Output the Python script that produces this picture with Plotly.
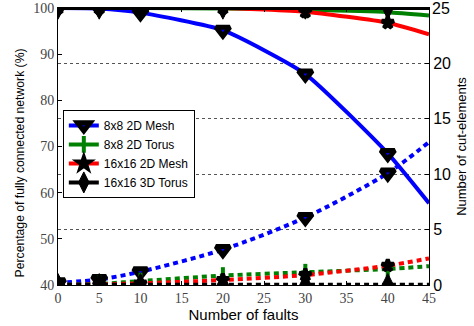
import plotly.graph_objects as go

faults = [0, 5, 10, 20, 30, 40, 45]
marker_faults = [0, 5, 10, 20, 30, 40]

names = ["8x8 2D Mesh", "8x8 2D Torus", "16x16 2D Mesh", "16x16 3D Torus"]
colors = ["#0000ff", "#008000", "#ff0000", "#000000"]
symbols = ["triangle-down", "line-ns", "star", "diamond-tall"]

# Percentage of fully connected network (%) - left axis
pct_mesh8 = [100.0, 99.9, 99.0, 95.2, 85.7, 68.5, 57.7]
pct_torus8 = [100.0, 100.0, 100.0, 99.9, 99.6, 99.1, 98.4]
pct_mesh16 = [100.0, 100.0, 100.0, 100.0, 99.2, 96.8, 94.3]
pct_torus16 = [100.0, 100.0, 100.0, 100.0, 100.0, 100.0, 100.0]

# Number of cut-elements - right axis
cut_mesh8 = [0.2, 0.5, 1.2, 3.2, 6.1, 10.1, 12.9]
cut_torus8 = [0.0, 0.1, 0.35, 0.85, 1.15, 1.45, 1.7]
cut_mesh16 = [0.0, 0.05, 0.15, 0.45, 0.9, 1.75, 2.4]
cut_torus16 = [0.02, 0.02, 0.02, 0.02, 0.02, 0.02, 0.02]

right_ticks = [0, 5, 10, 15, 20, 25]
left_ticks = [40, 50, 60, 70, 80, 90, 100]
x_ticks = [0, 5, 10, 15, 20, 25, 30, 35, 40, 45]

pct = [pct_mesh8, pct_torus8, pct_mesh16, pct_torus16]
cut = [cut_mesh8, cut_torus8, cut_mesh16, cut_torus16]

fig = go.Figure()


def marker_for(i, legend=False):
    if symbols[i] == "line-ns":
        return dict(symbol="line-ns", size=12, color=colors[i],
                    line=dict(color=colors[i], width=4))
    if symbols[i] == "diamond-tall":
        return dict(symbol="diamond-tall", size=15 if legend else 16, color="black",
                    line=dict(color="black", width=1))
    if symbols[i] == "star":
        return dict(symbol="star", size=9, color=colors[i],
                    line=dict(color="black", width=4))
    return dict(symbol=symbols[i], size=11 if legend else 12, color=colors[i],
                line=dict(color="black", width=5))


# dotted cut-element curves (right axis)
for i in range(4):
    fig.add_trace(go.Scatter(
        x=faults, y=cut[i], yaxis="y2", mode="lines",
        line=dict(color=colors[i], width=4, dash="5px,4px", shape="spline", smoothing=0.8),
        showlegend=False, hoverinfo="skip"))
    n = len(marker_faults)
    fig.add_trace(go.Scatter(
        x=marker_faults, y=cut[i][:n], yaxis="y2", mode="markers",
        marker=marker_for(i), showlegend=False, hoverinfo="skip"))

# solid percentage curves (left axis)
for i in range(4):
    fig.add_trace(go.Scatter(
        x=faults, y=pct[i], yaxis="y", mode="lines",
        line=dict(color=colors[i], width=4, shape="spline", smoothing=0.5),
        showlegend=False, hoverinfo="skip"))
    n = len(marker_faults)
    fig.add_trace(go.Scatter(
        x=marker_faults, y=pct[i][:n], yaxis="y", mode="markers",
        marker=marker_for(i), showlegend=False, hoverinfo="skip"))

# legend entries
for i in range(4):
    fig.add_trace(go.Scatter(
        x=[None], y=[None], mode="lines+markers", name=names[i],
        line=dict(color=colors[i], width=4, dash="solid"), marker=marker_for(i, legend=True)))

serif = "Liberation Serif"
sans = "Liberation Sans"

fig.update_layout(
    width=474, height=326,
    margin=dict(l=58, r=45, t=8, b=41, autoexpand=False),
    paper_bgcolor="white", plot_bgcolor="white",
    xaxis=dict(
        range=[0, 45], tickvals=x_ticks,
        ticks="inside", ticklen=4, tickcolor="black", automargin=False,
        showline=True, linecolor="black", linewidth=1, mirror="ticks",
        showgrid=False, zeroline=False, ticklabeloverflow="allow",
        tickfont=dict(family=serif, size=14, color="#444"),
        title=dict(text="Number of faults", font=dict(family=sans, size=15, color="black"), standoff=4),
    ),
    yaxis=dict(
        range=[40, 100], tickvals=left_ticks,
        ticks="inside", ticklen=4, tickcolor="black", automargin=False,
        showline=True, linecolor="black", linewidth=1,
        showgrid=False, zeroline=False, ticklabeloverflow="allow",
        tickfont=dict(family=serif, size=14, color="#444"),
    ),
    yaxis2=dict(
        range=[0, 25], tickvals=right_ticks[:-1],
        overlaying="y", side="right", automargin=False,
        ticks="inside", ticklen=4, tickcolor="black",
        showline=True, linecolor="black", linewidth=1,
        showgrid=True, gridcolor="#555", griddash="dot", gridwidth=1,
        zeroline=False, ticklabeloverflow="allow",
        tickfont=dict(family=sans, size=16, color="black"),
        title=dict(text="Number of cut-elements",
                   font=dict(family=sans, size=13, color="black"), standoff=6),
    ),
    legend=dict(
        x=0.013, y=0.632, xanchor="left", yanchor="top",
        bgcolor="white", bordercolor="black", borderwidth=1,
        font=dict(family=sans, size=12, color="black"),
        itemwidth=30, tracegroupgap=0,
    ),
    annotations=[
        dict(
            text="Percentage of fully connected network (%)",
            xref="paper", yref="paper", x=-0.1024, y=0.439,
            xanchor="center", yanchor="middle", textangle=-90, showarrow=False,
            font=dict(family=sans, size=12.2, color="black"),
        ),
        dict(
            text=str(right_ticks[-1]),
            xref="paper", yref="y2", x=1, y=right_ticks[-1],
            xanchor="left", yanchor="middle", xshift=1, showarrow=False,
            font=dict(family=sans, size=16, color="black"),
        ),
    ],
)

fig.write_html("out.html", config={"displayModeBar": False})
